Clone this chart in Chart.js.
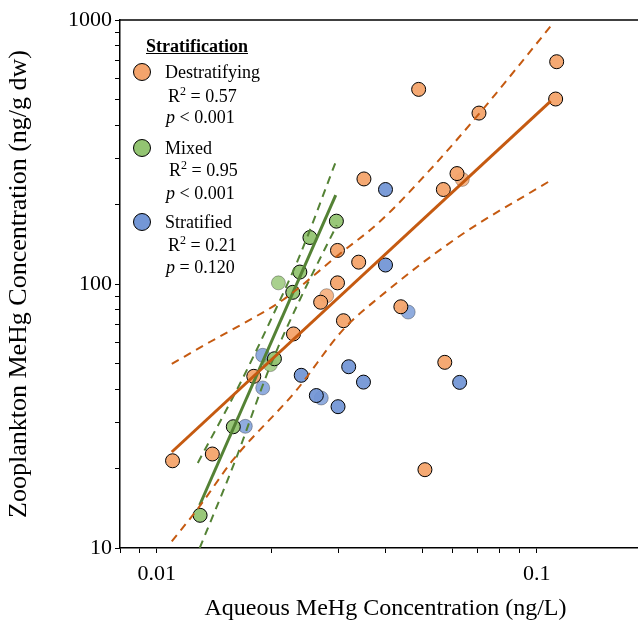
<!DOCTYPE html>
<html>
<head>
<meta charset="utf-8">
<script src="https://cdn.jsdelivr.net/npm/chart.js@4.4.0/dist/chart.umd.min.js"></script>
<style>
html, body { margin: 0; padding: 0; overflow: hidden; background: #fff; }
#wrap { position: relative; width: 651px; height: 621px; }
.leg { position: absolute; font-family: 'Liberation Serif', 'Times New Roman', serif; font-size: 18px; line-height: 22px; white-space: nowrap; color: #000; }
.leg sup { font-size: 12px; line-height: 0; vertical-align: 7px; }
.title { font-weight: bold; text-decoration: underline; }
.dot { position: absolute; width: 18px; height: 18px; border-radius: 50%; border: 1px solid #000; box-sizing: border-box; }
</style>
</head>
<body>
<div id="wrap">
  <canvas id="chart" width="651" height="621"></canvas>
  <div class="leg title" style="left:146px; top:35px;">Stratification</div>
  <div class="dot" style="left:133px; top:63px; background:rgb(244,164,108);"></div>
  <div class="leg" style="left:165px; top:61px;">Destratifying</div>
  <div class="leg" style="left:168px; top:85px;">R<sup>2</sup> = 0.57</div>
  <div class="leg" style="left:166px; top:106px;"><i>p</i> &lt; 0.001</div>
  <div class="dot" style="left:133px; top:139px; background:rgb(147,196,114);"></div>
  <div class="leg" style="left:165px; top:137px;">Mixed</div>
  <div class="leg" style="left:169px; top:159px;">R<sup>2</sup> = 0.95</div>
  <div class="leg" style="left:166px; top:182px;"><i>p</i> &lt; 0.001</div>
  <div class="dot" style="left:133px; top:213px; background:rgb(116,151,214);"></div>
  <div class="leg" style="left:165px; top:211px;">Stratified</div>
  <div class="leg" style="left:168px; top:234px;">R<sup>2</sup> = 0.21</div>
  <div class="leg" style="left:166px; top:256px;"><i>p</i> = 0.120</div>
</div>
<script>
// Destratifying
let destratX = [0.0110, 0.0140, 0.0180, 0.0229, 0.0270, 0.0299, 0.0310, 0.0299, 0.0340, 0.0351, 0.0489, 0.0439, 0.0508, 0.0573, 0.0568, 0.0617, 0.0705, 0.1122, 0.1129];
let destratY = [21.4, 22.7, 44.7, 64.7, 85.3, 101, 72.6, 134, 121, 250, 546, 82, 19.8, 50.5, 228, 262, 444, 502, 695];
let destratFadedX = [0.0280, 0.0637];
let destratFadedY = [90.3, 249];

// Mixed
let mixedX = [0.0130, 0.0159, 0.0204, 0.0228, 0.0238, 0.0253, 0.0297];
let mixedY = [13.3, 28.8, 52.1, 93.0, 111, 150, 173];
let mixedFadedX = [0.0199, 0.0209];
let mixedFadedY = [49.5, 101];

// Stratified
let stratX = [0.0240, 0.0263, 0.0300, 0.0320, 0.0350, 0.0400, 0.0400, 0.0627];
let stratY = [45.1, 37.8, 34.3, 48.6, 42.5, 228, 118, 42.4];
let stratFadedX = [0.0171, 0.0190, 0.0190, 0.0271, 0.0459];
let stratFadedY = [28.9, 40.4, 53.7, 37.0, 78.3];

// regression lines and 95% bands
let destratFitX = [0.01095, 0.1089];
let destratFitY = [23.1, 493];
let destratUpperX = [0.01095, 0.01379, 0.01757, 0.02146, 0.0303, 0.0386, 0.0523, 0.0708, 0.1095];
let destratUpperY = [49.8, 60.3, 73.1, 87.0, 130, 172, 270, 444, 957];
let destratLowerX = [0.01095, 0.01297, 0.01585, 0.02335, 0.03087, 0.0386, 0.0627, 0.1095];
let destratLowerY = [10.6, 14.4, 21.5, 39.7, 66.9, 89.3, 152, 248];

let mixedFitX = [0.01297, 0.02958];
let mixedFitY = [14.55, 217];
let mixedUpperX = [0.01282, 0.01654, 0.01984, 0.02378, 0.02958];
let mixedUpperY = [21.0, 41.8, 71.8, 128, 290];
let mixedLowerX = [0.01297, 0.01604, 0.01984, 0.02378, 0.02977];
let mixedLowerY = [10.0, 21.2, 48.5, 87.0, 167];

// axis ticks
let xTickValues = [0.008, 0.009, 0.01, 0.02, 0.03, 0.04, 0.05, 0.06, 0.07, 0.08, 0.09, 0.1];
let xLabelValues = [0.01, 0.1];
let xLabels = ['0.01', '0.1'];
let yTickValues = [10, 20, 30, 40, 50, 60, 70, 80, 90, 100, 200, 300, 400, 500, 600, 700, 800, 900, 1000];
let yLabelValues = [10, 100, 1000];
let yLabels = ['10', '100', '1000'];

const serif = "'Liberation Serif', 'Times New Roman', serif";

function pts(xs, ys) {
    return xs.map((x, i) => ({ x: x, y: ys[i] }));
}

function fitLine(label, xs, ys, color) {
    return { label: label, data: pts(xs, ys), showLine: true, borderColor: color, borderWidth: 3, pointRadius: 0, order: 0 };
}

function band(label, xs, ys, color) {
    return { label: label, data: pts(xs, ys), showLine: true, borderColor: color, borderWidth: 2, borderDash: [8, 6], pointRadius: 0, cubicInterpolationMode: 'monotone', order: 0 };
}

function markers(label, xs, ys, fill, border, order) {
    return { label: label, data: pts(xs, ys), backgroundColor: fill, borderColor: border, borderWidth: 1, pointRadius: 7, pointHoverRadius: 7, order: order };
}

const topBorder = {
    id: 'topBorder',
    afterDraw(chart) {
        const { ctx, chartArea } = chart;
        ctx.save();
        ctx.strokeStyle = '#000';
        ctx.lineWidth = 1.5;
        ctx.beginPath();
        ctx.moveTo(chartArea.left, chartArea.top);
        ctx.lineTo(chartArea.right, chartArea.top);
        ctx.stroke();
        ctx.restore();
    }
};

let ctx = document.getElementById('chart').getContext('2d');
let chart = new Chart(ctx, {
    type: 'scatter',
    data: {
        datasets: [
            fitLine('Destratifying fit', destratFitX, destratFitY, '#C55A11'),
            band('Destratifying upper', destratUpperX, destratUpperY, '#C55A11'),
            band('Destratifying lower', destratLowerX, destratLowerY, '#C55A11'),
            fitLine('Mixed fit', mixedFitX, mixedFitY, '#548235'),
            band('Mixed upper', mixedUpperX, mixedUpperY, '#548235'),
            band('Mixed lower', mixedLowerX, mixedLowerY, '#548235'),
            markers('Destratifying', destratX, destratY, 'rgba(244,164,108,0.95)', '#000', 2),
            markers('Mixed', mixedX, mixedY, 'rgba(147,196,114,0.95)', '#000', 2),
            markers('Stratified', stratX, stratY, 'rgba(116,151,214,0.95)', '#000', 2),
            markers('Destratifying (faded)', destratFadedX, destratFadedY, 'rgba(244,164,108,0.8)', 'rgba(0,0,0,0.3)', 3),
            markers('Mixed (faded)', mixedFadedX, mixedFadedY, 'rgba(147,196,114,0.8)', 'rgba(0,0,0,0.3)', 3),
            markers('Stratified (faded)', stratFadedX, stratFadedY, 'rgba(116,151,214,0.8)', 'rgba(0,0,0,0.3)', 3)
        ]
    },
    options: {
        responsive: false,
        animation: false,
        layout: { autoPadding: false, padding: { top: 20, right: 0, left: 0, bottom: 0 } },
        plugins: { legend: { display: false }, tooltip: { enabled: false } },
        scales: {
            x: {
                type: 'logarithmic',
                min: 0.008,
                max: 0.2,
                afterBuildTicks: s => { s.ticks = xTickValues.map(v => ({ value: v })); },
                afterFit: s => { s.height = 73; s.paddingLeft = 0; s.paddingRight = 0; },
                ticks: {
                    autoSkip: false,
                    maxRotation: 0,
                    padding: 8,
                    color: '#000',
                    font: { family: serif, size: 22 },
                    callback: v => { const i = xLabelValues.indexOf(v); return i >= 0 ? xLabels[i] : ''; }
                },
                grid: { drawOnChartArea: false, drawTicks: true, tickLength: 5, color: '#000', lineWidth: 1 },
                border: { display: true, color: '#000', width: 1.5 },
                title: { display: true, text: 'Aqueous MeHg Concentration (ng/L)', color: '#000', font: { family: serif, size: 24, lineHeight: 1 }, padding: { top: 0, bottom: 0 } }
            },
            y: {
                type: 'logarithmic',
                min: 10,
                max: 1000,
                afterBuildTicks: s => { s.ticks = yTickValues.map(v => ({ value: v })); },
                afterFit: s => { s.width = 120; },
                ticks: {
                    autoSkip: false,
                    padding: 3,
                    color: '#000',
                    font: { family: serif, size: 22 },
                    callback: v => { const i = yLabelValues.indexOf(v); return i >= 0 ? yLabels[i] : ''; }
                },
                grid: { drawOnChartArea: false, drawTicks: true, tickLength: 5, color: '#000', lineWidth: 1 },
                border: { display: true, color: '#000', width: 1.5 },
                title: { display: true, text: 'Zooplankton MeHg Concentration (ng/g dw)', color: '#000', font: { family: serif, size: 26 }, padding: { top: 4, bottom: 0 } }
            }
        }
    },
    plugins: [topBorder]
});
</script>
</body>
</html>
